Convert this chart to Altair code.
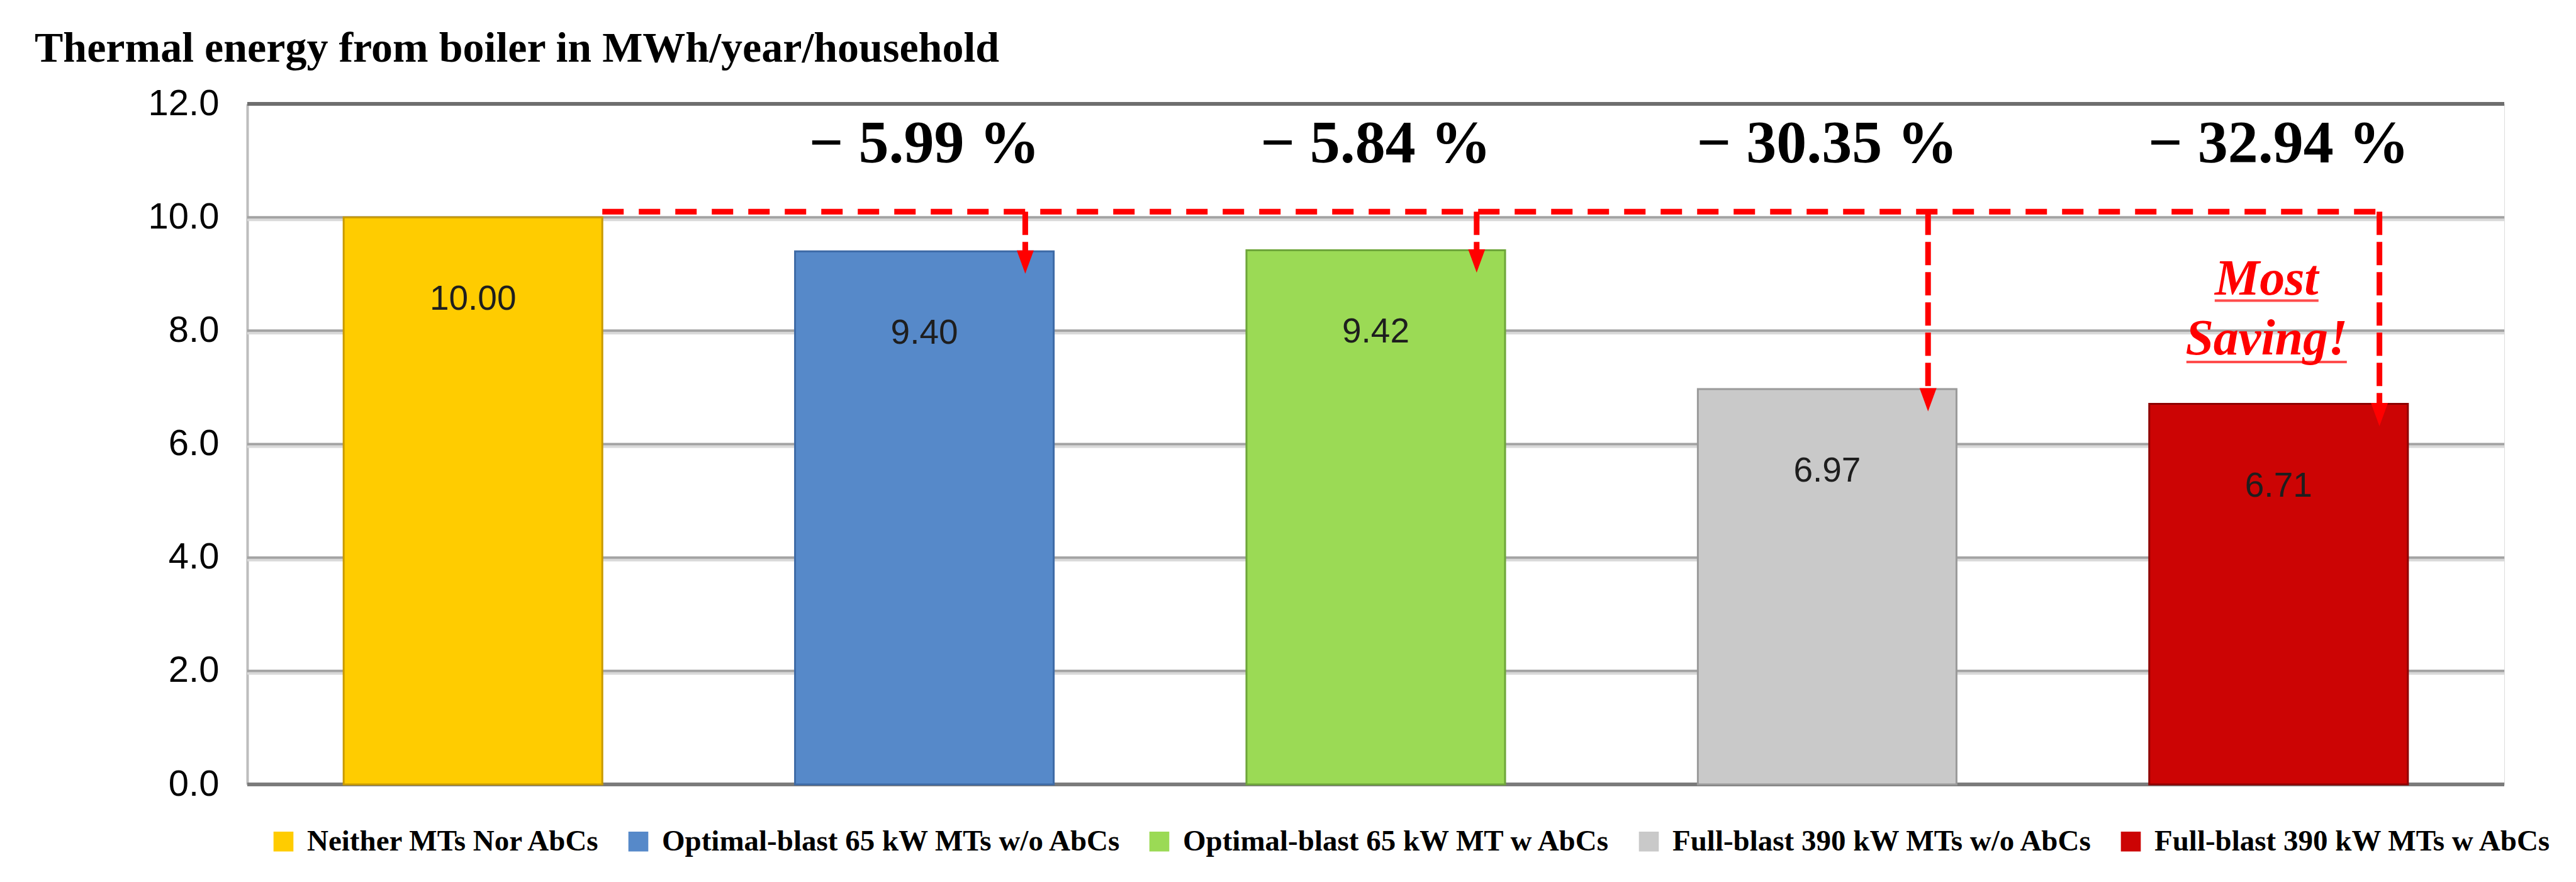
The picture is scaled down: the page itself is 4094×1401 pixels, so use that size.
import altair as alt
import pandas as pd

# ---------------- data ----------------
categories = [
    "Neither MTs Nor AbCs",
    "Optimal-blast 65 kW MTs w/o AbCs",
    "Optimal-blast 65 kW MT w AbCs",
    "Full-blast 390 kW MTs w/o AbCs",
    "Full-blast 390 kW MTs w AbCs",
]
values = [10.00, 9.40, 9.42, 6.97, 6.71]
value_labels = ["10.00", "9.40", "9.42", "6.97", "6.71"]
reduction_labels = ["\u2212 5.99 %", "\u2212 5.84 %", "\u2212 30.35 %", "\u2212 32.94 %"]
y_ticks = [0, 2, 4, 6, 8, 10, 12]
callout_text = ["Most", "Saving!"]

fill_colors = ["#FFCC00", "#5689C9", "#9BDA55", "#C9C9C9", "#CC0404"]
edge_colors = ["#C99A00", "#3D6AA6", "#6EA53A", "#9A9A9A", "#8E0000"]
RED = "#FF0000"

# ---------------- tables ----------------
bars = pd.DataFrame({"cat": categories, "value": values, "label": value_labels})
arrows = pd.DataFrame({"cat": categories[1:], "value": values[1:], "start": [10.1] * 4,
                       "pct": reduction_labels})
hline = pd.DataFrame({"cat": [categories[0]], "cat_end": [categories[-1]], "level": [10.1]})
callout = pd.DataFrame({"cat": [categories[-1]], "txt": ["\n".join(callout_text)]})
underline = pd.DataFrame({"cat": [categories[-1]] * 2, "lvl": [8.53, 7.45], "name": callout_text})
grid = pd.DataFrame({"tick": y_ticks[1:-1]})

xsc = alt.Scale(domain=categories, paddingInner=0.427, paddingOuter=0.2135)
ysc = alt.Scale(domain=[0, 12], nice=False, zero=True)


def X(**kw):
    return alt.X("cat:N", scale=xsc, axis=None, title=None, **kw)


base_bars = alt.Chart(bars)

# grid lines (drawn as marks so they sit behind the bars)
grid_shadow = alt.Chart(grid).mark_rule(color="#D9D9D9", strokeWidth=4, yOffset=4).encode(
    y=alt.Y("tick:Q", title=None))
grid_layer = alt.Chart(grid).mark_rule(color="#A3A3A3", strokeWidth=4).encode(
    y=alt.Y("tick:Q", title=None))

bar_layer = base_bars.mark_bar(strokeWidth=3).encode(
    x=X(),
    y=alt.Y(
        "value:Q",
        scale=ysc,
        title=None,
        axis=alt.Axis(
            values=y_ticks,
            format=".1f",
            labelFont="Liberation Sans",
            labelFontSize=58,
            labelColor="black",
            labelPadding=45,
            ticks=False,
            grid=False,
            domainColor="#BDBDBD",
            domainWidth=4,
            title=None,
        ),
    ),
    color=alt.Color(
        "cat:N",
        scale=alt.Scale(domain=categories, range=fill_colors),
        legend=alt.Legend(
            orient="none",
            legendX=34,
            legendY=1148,
            direction="horizontal",
            columns=5,
            title=None,
            symbolType="square",
            symbolSize=1000,
            symbolStrokeWidth=0,
            labelFont="Liberation Serif",
            labelFontSize=47,
            labelFontWeight="bold",
            labelColor="black",
            labelOffset=14,
            columnPadding=36,
            padding=0,
            labelLimit=3000,
        ),
    ),
    stroke=alt.Stroke("cat:N", scale=alt.Scale(domain=categories, range=edge_colors), legend=None),
)

top_line = alt.Chart(bars).mark_rule(color="#6E6E6E", strokeWidth=6).encode(y=alt.datum(12))
base_line = alt.Chart(bars).mark_rule(color="#7A7A7A", strokeWidth=5).encode(y=alt.datum(0))

bar_text = base_bars.mark_text(
    font="Liberation Sans", fontSize=55, color="#1E1E1E", baseline="middle", dy=130
).encode(x=X(), y=alt.Y("value:Q", title=None), text="label:N")

h_dash = alt.Chart(hline).mark_rule(color=RED, strokeWidth=9, strokeDash=[34, 24]).encode(
    x=X(bandPosition=1),
    x2=alt.X2("cat_end:N", bandPosition=0.89),
    y=alt.Y("level:Q", title=None),
)

v_dash = alt.Chart(arrows).mark_rule(color=RED, strokeWidth=9, strokeDash=[37, 11], y2Offset=17).encode(
    x=X(bandPosition=0.89),
    y=alt.Y("start:Q", title=None),
    y2="value:Q",
)

heads = alt.Chart(arrows).mark_point(
    shape="M-0.73,-1L0.73,-1L0,1Z", size=1369, filled=True, color=RED, opacity=1, yOffset=17
).encode(x=X(bandPosition=0.89), y=alt.Y("value:Q", title=None))

pct_text = alt.Chart(arrows).mark_text(
    font="Liberation Serif", fontSize=96, fontWeight="bold", color="black", baseline="alphabetic"
).encode(x=X(), y=alt.datum(10.97), text="pct:N")

callout_layer = alt.Chart(callout).mark_text(
    font="Liberation Serif", fontSize=80, fontWeight="bold", fontStyle="italic", color=RED,
    baseline="alphabetic", lineBreak="\n", lineHeight=95, xOffset=-19,
).encode(x=X(), y=alt.datum(8.64), text="txt:N")

underline_layer = alt.Chart(underline).mark_tick(color=RED, thickness=4, size=200, xOffset=-19).encode(
    x=X(), y=alt.Y("lvl:Q", title=None),
    size=alt.Size("name:N", scale=alt.Scale(domain=callout_text, range=[165, 255]), legend=None),
)

chart = (
    alt.layer(
        grid_shadow, grid_layer, top_line, base_line, bar_layer, bar_text, h_dash, v_dash, heads,
        pct_text, callout_layer, underline_layer,
    )
    .properties(
        width=3587,
        height=1081,
        autosize=alt.AutoSizeParams(type="none"),
        padding={"left": 385, "top": 157, "right": 106, "bottom": 147},
        title=alt.TitleParams(
            text="Thermal energy from boiler in MWh/year/household",
            font="Liberation Serif",
            fontSize=68,
            fontWeight="bold",
            color="black",
            anchor="start",
            frame="group",
            dx=-338,
            offset=24,
        ),
    )
    .configure_view(stroke="#8A8A8A", strokeWidth=3)
    .configure(background="white")
)

chart.save("out.html", embed_options={"renderer": "svg", "actions": False})
